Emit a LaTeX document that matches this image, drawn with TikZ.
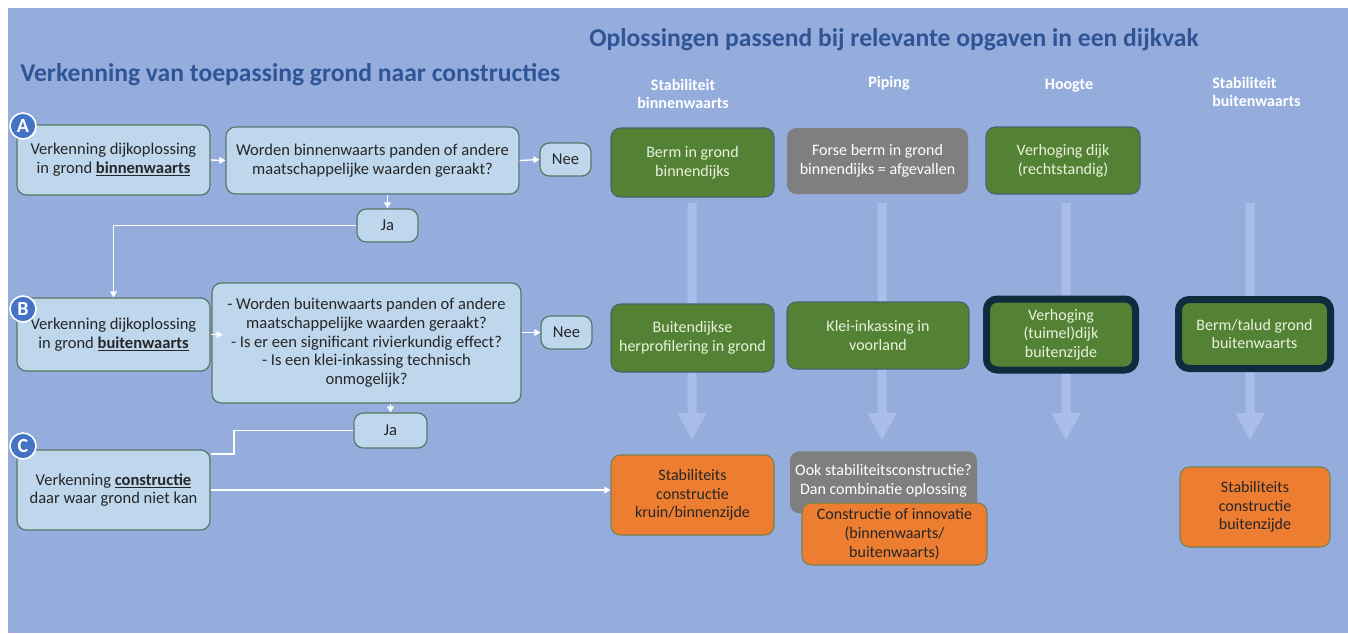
\documentclass[tikz,border=0pt]{standalone}
\usepackage{fontspec}
\setmainfont{Carlito}
\usetikzlibrary{arrows.meta,calc}
\definecolor{bgblue}{RGB}{149,173,220}
\definecolor{boxblue}{RGB}{190,215,237}
\definecolor{boxedge}{RGB}{88,118,104}
\definecolor{titleblue}{RGB}{47,85,151}
\definecolor{grn}{RGB}{84,130,53}
\definecolor{grnedge}{RGB}{70,100,110}
\definecolor{grntext}{RGB}{232,242,222}
\definecolor{gry}{RGB}{127,127,127}
\definecolor{orng}{RGB}{237,125,49}
\definecolor{orngedge}{RGB}{120,130,80}
\definecolor{navy}{RGB}{16,42,62}
\definecolor{circblue}{RGB}{68,114,196}
\definecolor{bigarrow}{RGB}{170,190,233}
\begin{document}
\begin{tikzpicture}[x=0.75pt,y=-0.75pt,
  every node/.style={inner sep=0pt},
  lbox/.style={draw=boxedge,line width=0.9pt,fill=boxblue,rounded corners=7pt,align=center,font=\fontsize{12.4}{14}\selectfont,text=black!85},
  gbox/.style={draw=grnedge,line width=0.8pt,fill=grn,rounded corners=7pt,align=center,font=\fontsize{12}{14}\selectfont,text=grntext},
  tbox/.style={draw=navy,line width=5.25pt,fill=grn,rounded corners=8pt,align=center,font=\fontsize{12}{14}\selectfont,text=grntext},
  graybox/.style={fill=gry,rounded corners=7pt,align=center,font=\fontsize{12}{14}\selectfont,text=white},
  obox/.style={draw=orngedge,line width=0.8pt,fill=orng,rounded corners=7pt,align=center,font=\fontsize{12}{14}\selectfont,text=black!85},
  circ/.style={circle,fill=circblue,draw=white,line width=1.2pt,minimum size=19.5pt,text=white,font=\fontsize{15}{15}\selectfont\bfseries},
  arr/.style={draw=white,line width=1pt,-{Triangle[length=4.5pt,width=5pt]}},
  conn/.style={draw=white,line width=1pt},
  hdr/.style={text=white,font=\fontsize{12}{14}\selectfont\bfseries,align=center},
  ttl/.style={text=titleblue,font=\fontsize{19.2}{21}\selectfont\bfseries}]
\useasboundingbox (0,0) rectangle (1348,633);
\fill[white] (0,0) rectangle (1348,633);
\fill[bgblue] (8,8) rectangle (1348,633);

% titles
\node[ttl,anchor=west] (t1) at (20,75) {Verkenning van toepassing grond naar constructies};
\node[ttl,anchor=west] (t2) at (589,40) {Oplossingen passend bij relevante opgaven in een dijkvak};

% column headers
\node[hdr] (h1) at (683,94) {Stabiliteit\\binnenwaarts};
\node[hdr] (h2) at (889,83) {Piping};
\node[hdr] (h3) at (1069,86) {Hoogte};
\node[hdr,align=left,anchor=west] (h4) at (1212,92) {Stabiliteit\\buitenwaarts};

% big faint arrows
\foreach \cx in {692,882,1066,1250}{
  \fill[bigarrow] (\cx-4.5,203) -- (\cx+4.5,203) -- (\cx+4.5,413) -- (\cx+14.5,413) -- (\cx,440) -- (\cx-14.5,413) -- (\cx-4.5,413) -- cycle;
}

% left flow
\node[lbox,minimum width=144.75pt,minimum height=52.5pt] (A1) at (113.5,160) {Verkenning dijkoplossing\\in grond \underline{\textbf{binnenwaarts}}};
\node[lbox,minimum width=219.75pt,minimum height=50.25pt] (A2) at (372.5,160.5) {Worden binnenwaarts panden of andere\\maatschappelijke waarden geraakt?};
\node[lbox,minimum width=38.25pt,minimum height=24.75pt] (NA) at (565.5,159.5) {Nee};
\node[lbox,minimum width=45.75pt,minimum height=24.75pt] (JA) at (387.5,225.5) {Ja};

\node[lbox,minimum width=144.75pt,minimum height=54.75pt] (B1) at (113.5,334.5) {Verkenning dijkoplossing\\in grond \underline{\textbf{buitenwaarts}}};
\node[lbox,minimum width=231.75pt,minimum height=90pt] (B2) at (366.5,343) {- Worden buitenwaarts panden of andere\\maatschappelijke waarden geraakt?\\- Is er een significant rivierkundig effect?\\- Is een klei-inkassing technisch\\onmogelijk?};
\node[lbox,minimum width=38.25pt,minimum height=24.75pt] (NB) at (566.5,332.5) {Nee};
\node[lbox,minimum width=54.75pt,minimum height=26.25pt] (JB) at (390.5,430.5) {Ja};

\node[lbox,minimum width=144.75pt,minimum height=60pt] (C) at (113.5,490) {Verkenning \underline{\textbf{constructie}}\\daar waar grond niet kan};

\node[circ] (cA) at (23,126) {A};
\node[circ] (cB) at (23,309) {B};
\node[circ] (cC) at (23,446) {C};

% right grid
\node[gbox,minimum width=122.25pt,minimum height=51.75pt] (G1) at (692.5,162.5) {Berm in grond\\binnendijks};
\node[graybox,minimum width=135.75pt,minimum height=49.5pt] (R1) at (877.5,161) {Forse berm in grond\\binnendijks = afgevallen};
\node[gbox,minimum width=115.5pt,minimum height=50.25pt] (G2) at (1063,160.5) {Verhoging dijk\\(rechtstandig)};

\node[gbox,minimum width=122.25pt,minimum height=51pt] (G3) at (692.5,338) {Buitendijkse\\herprofilering in grond};
\node[gbox,minimum width=136.5pt,minimum height=50.25pt] (G4) at (878,335.5) {Klei-inkassing in\\voorland};
\node[tbox,minimum width=111.75pt,minimum height=53.25pt] (G5) at (1061,334.5) {Verhoging\\(tuimel)dijk\\buitenzijde};
\node[tbox,minimum width=114pt,minimum height=51.75pt] (G6) at (1254.5,334) {Berm/talud grond\\buitenwaarts};

\node[obox,minimum width=122.25pt,minimum height=60pt] (O1) at (692.5,495) {Stabiliteits\\constructie\\kruin/binnenzijde};
\node[graybox,minimum width=140.25pt,minimum height=46.5pt,anchor=north] (R2) at (883.5,451) {};
\node[text=white,align=center,font=\fontsize{12}{14}\selectfont] (R2t) at (883.5,481) {Ook stabiliteitsconstructie?\\Dan combinatie oplossing};
\node[obox,minimum width=138.75pt,minimum height=46.5pt] (O2) at (894.5,534) {Constructie of innovatie\\(binnenwaarts/\\buitenwaarts)};
\node[obox,minimum width=112.5pt,minimum height=60pt] (O3) at (1255,507) {Stabiliteits\\constructie\\buitenzijde};

% connectors
\draw[arr] (A1.east) -- (A2.west);
\draw[arr] (A2.east) -- (NA.west);
\draw[arr] (A2.south -| JA.north) -- (JA.north);
\draw[arr] (JA.west) -| (B1.north);
\draw[arr] (B1.east) -- ++(12,0);
\draw[arr] (B2.east |- NB.west) -- (NB.west);
\draw[arr] (B2.south -| JB.north) -- (JB.north);
\coordinate (cbend) at (234,454);
\draw[conn] (JB.west) -| (cbend) -- (cbend -| C.east);
\draw[arr] (C.east) -- (C.east -| O1.west);
\end{tikzpicture}
\end{document}
